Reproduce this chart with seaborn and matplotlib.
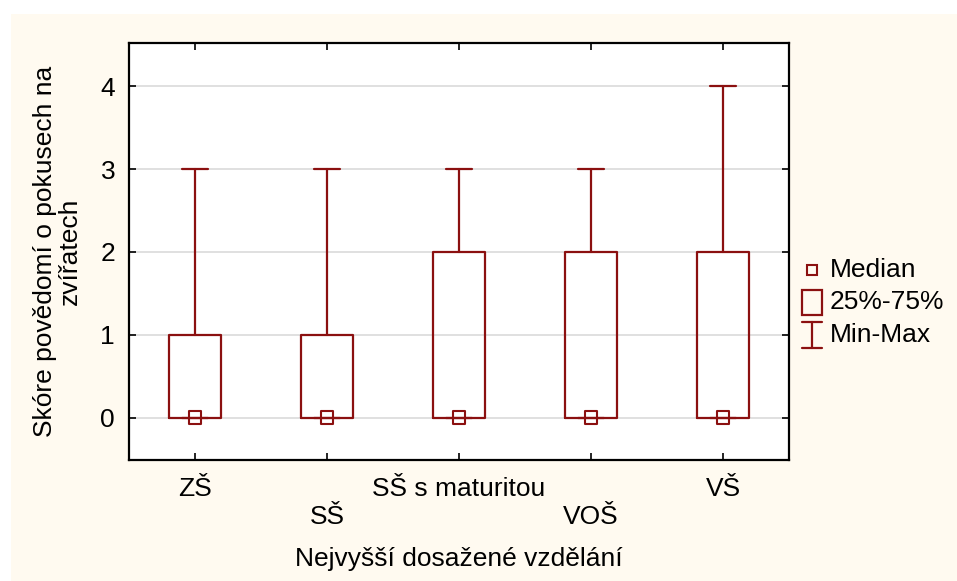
import numpy as np
import pandas as pd
import matplotlib.pyplot as plt
import matplotlib.patches as mpatches
from matplotlib.lines import Line2D
import seaborn as sns

categories = ["ZŠ", "SŠ", "SŠ s maturitou", "VOŠ", "VŠ"]
q_min = [0, 0, 0, 0, 0]
q1 = [0, 0, 0, 0, 0]
medians = [0, 0, 0, 0, 0]
q3 = [1, 1, 2, 2, 2]
q_max = [3, 3, 3, 3, 4]
legend_labels = ["Median", "25%-75%", "Min-Max"]

box_color = "#8B1010"
cream = "#FFFAF0"
W, H = 957, 581

sns.set_theme(style="white")
plt.rcParams["font.family"] = ["Liberation Sans", "DejaVu Sans"]
plt.rcParams["text.color"] = "black"
plt.rcParams["axes.labelcolor"] = "black"
plt.rcParams["xtick.color"] = "black"
plt.rcParams["ytick.color"] = "black"

fig = plt.figure(figsize=(W / 100, H / 100), dpi=100)
fig.patch.set_facecolor("white")
fig.patches.append(mpatches.Rectangle((11 / W, 0), 1, 1 - 14 / H,
                                      transform=fig.transFigure,
                                      facecolor=cream, edgecolor="none", zorder=-10))
ax = fig.add_axes([129 / W, 1 - 460 / H, 660 / W, 417 / H])
ax.set_facecolor("white")

stats = []
for i, c in enumerate(categories):
    stats.append(dict(label=c, whislo=q_min[i], q1=q1[i], med=medians[i],
                      q3=q3[i], whishi=q_max[i], fliers=[]))

props = dict(color=box_color, linewidth=1.6)
ax.bxp(stats, positions=range(len(categories)), widths=0.395, showfliers=False,
       boxprops=props, whiskerprops=props, capprops=props,
       medianprops=dict(linewidth=0), capwidths=0.2, manage_ticks=False, zorder=3)

df = pd.DataFrame({"cat": categories, "median": medians})
sns.scatterplot(data=df, x="cat", y="median", marker="s", s=85,
                facecolor="none", edgecolor=box_color, linewidth=1.5, ax=ax, zorder=4)

fs = 19
ax.set_xlim(-0.5, 4.5)
ax.set_ylim(-0.51, 4.52)
ax.set_yticks([0, 1, 2, 3, 4])
ax.set_xticks(range(len(categories)))
ax.set_xticklabels([c if i % 2 == 0 else "\n" + c for i, c in enumerate(categories)],
                   fontsize=fs, linespacing=1.25)
ax.tick_params(axis="y", labelsize=fs, pad=10)
ax.tick_params(axis="x", pad=12)
ax.tick_params(direction="in", length=5, width=1.2, color="black",
               top=True, right=True, bottom=True, left=True)
ax.yaxis.grid(True, color="#DADADA", linewidth=1.2)
ax.set_axisbelow(True)
for s in ax.spines.values():
    s.set_color("black")
    s.set_linewidth(1.6)

ax.set_xlabel("Nejvyšší dosažené vzdělání", fontsize=fs, labelpad=13)
ax.set_ylabel("Skóre povědomí o pokusech na\nzvířatech", fontsize=fs,
              linespacing=1.05, labelpad=13)

# legend, drawn as in the original software: small square, box, I-beam
tr = fig.transFigure
def fx(px):
    return px / W
def fy(py):
    return 1 - py / H

lx, tx = 812, 830
rows = [270, 302, 335]
fig.patches.append(mpatches.Rectangle((fx(lx - 5), fy(rows[0] + 5)), 10 / W, 10 / H,
                                      transform=tr, facecolor="none",
                                      edgecolor=box_color, linewidth=1.5))
fig.patches.append(mpatches.Rectangle((fx(lx - 10), fy(rows[1] + 12.5)), 20 / W, 25 / H,
                                      transform=tr, facecolor="none",
                                      edgecolor=box_color, linewidth=1.6))
cy = rows[2]
for xs, ys in [([lx - 10, lx + 10], [cy - 13, cy - 13]),
               ([lx - 10, lx + 10], [cy + 13, cy + 13]),
               ([lx, lx], [cy - 13, cy + 13])]:
    fig.add_artist(Line2D([fx(x) for x in xs], [fy(y) for y in ys], transform=tr,
                          color=box_color, linewidth=1.6))
for lab, r in zip(legend_labels, rows):
    fig.text(fx(tx), fy(r), lab, fontsize=fs, va="center", ha="left")

fig.savefig("out.png", dpi=100, facecolor=fig.get_facecolor())
